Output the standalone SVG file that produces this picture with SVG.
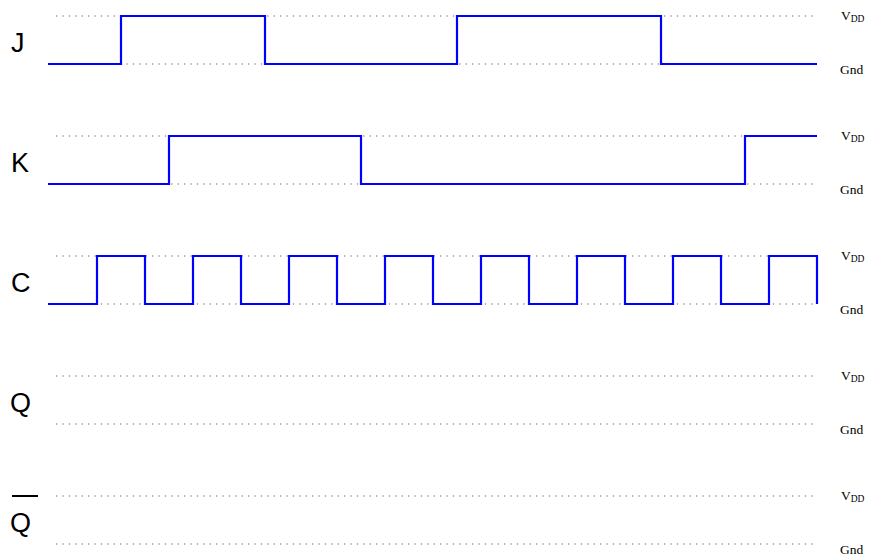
<svg xmlns="http://www.w3.org/2000/svg" width="871" height="556" viewBox="0 0 871 556">
<style>
.ref{stroke:#999;stroke-width:1.3;stroke-dasharray:1.3 5.1;fill:none}
.wave{stroke:#0000ff;stroke-width:2.2;fill:none;stroke-linejoin:miter}
.sig{font-family:"Liberation Sans",Arial,sans-serif;font-size:27px;fill:#000}
.lv{font-family:"Liberation Serif","Times New Roman",serif;font-size:13.5px;fill:#000}
.sub{font-size:9.5px}
</style>
<rect width="871" height="556" fill="#fff"/>
<g id="reference-lines">
<line class="ref" x1="56" y1="16" x2="817" y2="16"/>
<line class="ref" x1="56" y1="64" x2="817" y2="64"/>
<line class="ref" x1="56" y1="136" x2="817" y2="136"/>
<line class="ref" x1="56" y1="184" x2="817" y2="184"/>
<line class="ref" x1="56" y1="256" x2="817" y2="256"/>
<line class="ref" x1="56" y1="304" x2="817" y2="304"/>
<line class="ref" x1="56" y1="376" x2="817" y2="376"/>
<line class="ref" x1="56" y1="424" x2="817" y2="424"/>
<line class="ref" x1="56" y1="496" x2="817" y2="496"/>
<line class="ref" x1="56" y1="544" x2="817" y2="544"/>
</g>
<g id="J">
<text class="sig" x="11" y="52">J</text>
<polyline class="wave" points="48,64 121,64 121,16 265,16 265,64 457,64 457,16 661,16 661,64 817,64"/>
<text class="lv" x="841" y="20">V<tspan class="sub" dy="2">DD</tspan></text>
<text class="lv" x="840" y="74">Gnd</text>
</g>
<g id="K">
<text class="sig" x="11" y="172">K</text>
<polyline class="wave" points="48,184 169,184 169,136 361,136 361,184 745,184 745,136 817,136"/>
<text class="lv" x="841" y="140">V<tspan class="sub" dy="2">DD</tspan></text>
<text class="lv" x="840" y="194">Gnd</text>
</g>
<g id="C">
<text class="sig" x="11" y="292">C</text>
<polyline class="wave" points="48,304 97,304 97,256 145,256 145,304 193,304 193,256 241,256 241,304 289,304 289,256 337,256 337,304 385,304 385,256 433,256 433,304 481,304 481,256 529,256 529,304 577,304 577,256 625,256 625,304 673,304 673,256 721,256 721,304 769,304 769,256 817,256 817,304"/>
<text class="lv" x="841" y="260">V<tspan class="sub" dy="2">DD</tspan></text>
<text class="lv" x="840" y="314">Gnd</text>
</g>
<g id="Q">
<text class="sig" x="10" y="412">Q</text>
<text class="lv" x="841" y="380">V<tspan class="sub" dy="2">DD</tspan></text>
<text class="lv" x="840" y="434">Gnd</text>
</g>
<g id="Qbar">
<line x1="12" y1="496" x2="38" y2="496" stroke="#000" stroke-width="2"/>
<text class="sig" x="10" y="532">Q</text>
<text class="lv" x="841" y="500">V<tspan class="sub" dy="2">DD</tspan></text>
<text class="lv" x="840" y="554">Gnd</text>
</g>
</svg>
